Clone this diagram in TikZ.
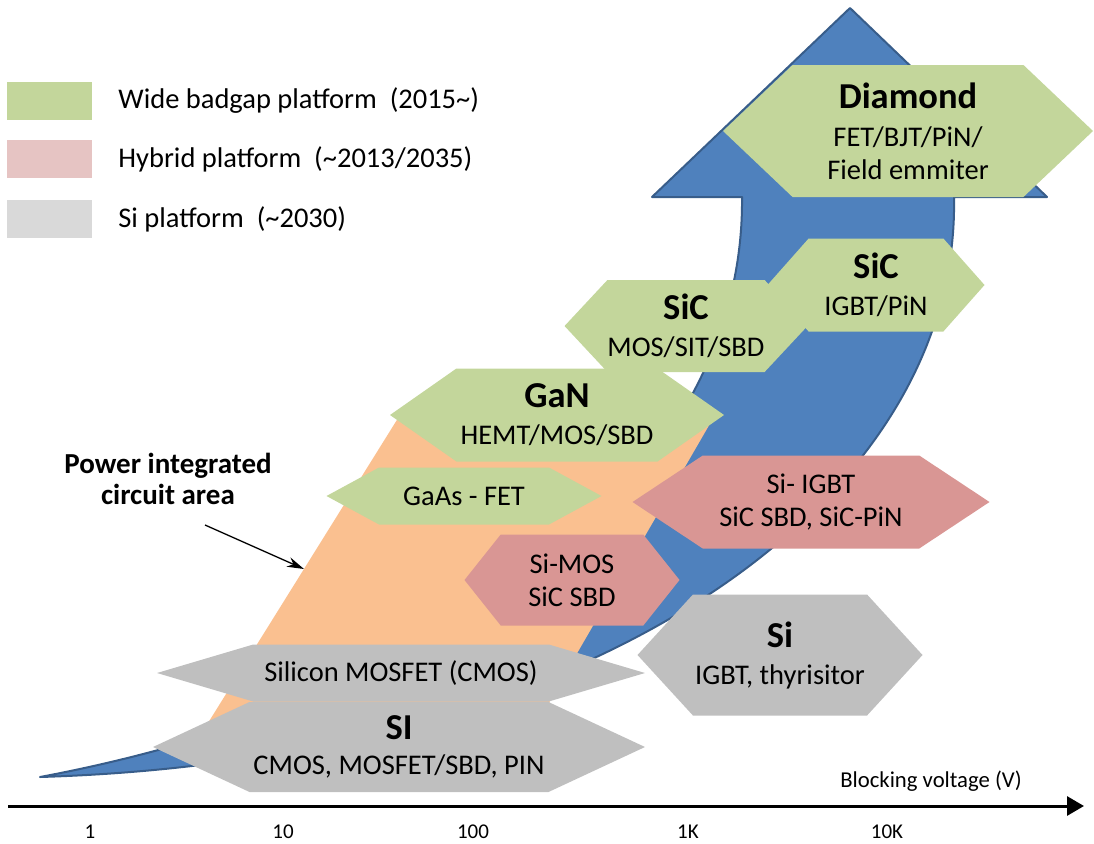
\documentclass[tikz,border=0pt]{standalone}
\usepackage{fontspec}
\setmainfont{Carlito}
\usepackage{tikz}
\usetikzlibrary{arrows.meta,positioning,shapes.symbols}
\definecolor{wbg-green}{HTML}{C3D69B}
\definecolor{hyb-pink}{HTML}{D99694}
\definecolor{hyb-light}{HTML}{E6C4C3}
\definecolor{si-gray}{HTML}{BFBFBF}
\definecolor{si-light}{HTML}{D9D9D9}
\definecolor{pic-orange}{HTML}{FAC090}
\definecolor{arr-blue}{HTML}{4F81BD}
\definecolor{arr-edge}{HTML}{385D8A}
\newcommand{\hxtitle}[1]{{\fontsize{36.5}{40}\selectfont\bfseries #1}}

\begin{document}
\begin{tikzpicture}[x=1pt, y=-1pt,
    hexa/.style={shape=signal, signal to=west and east, inner sep=0pt,
                 align=center, font=\fontsize{28.5}{33}\selectfont},
    legbox/.style={rectangle, minimum width=85pt, minimum height=38pt, inner sep=0pt},
    legtext/.style={inner sep=0pt, font=\fontsize{28.5}{33}\selectfont},
    ticklbl/.style={inner sep=0pt, font=\fontsize{21}{24}\selectfont},
    arrow/.style={-{Stealth[length=17pt,width=10pt]}, line width=1.3pt}
]
  \useasboundingbox (0,0) rectangle (1094,843);

  % Growth arrow
  \filldraw[fill=arr-blue, draw=arr-edge, line width=2pt, line join=round]
    (40,777) .. controls (600,760) and (960,500) .. (954,197)
    -- (1047,197) -- (850,8) -- (652,197) -- (742,197)
    .. controls (745,480) and (450,700) .. (40,777) -- cycle;

  % Power IC area
  \fill[pic-orange] (188,755) -- (400,415) -- (715,415) -- (550,700) -- (540,755) -- cycle;

  % Legend
  \node[legbox, fill=wbg-green] (lgwide) at (49.5,101) {};
  \node[legtext, right=26pt of lgwide] (lgwidet) {Wide\ badgap platform\ \ (2015\textasciitilde)};
  \node[legbox, fill=hyb-light] (lghyb) at (49.5,159) {};
  \node[legtext, right=26pt of lghyb] (lghybt) {Hybrid platform\ \ (\textasciitilde2013/2035)};
  \node[legbox, fill=si-light] (lgsi) at (49.5,219) {};
  \node[legtext, right=26pt of lgsi] (lgsit) {Si platform\ \ (\textasciitilde2030)};

  % Wide bandgap
  \node[hexa, fill=wbg-green, minimum width=370pt, minimum height=132pt, signal pointer angle=87]
    (diamond) at (908,131) {\hxtitle{Diamond}\\[5pt]FET/BJT/PiN/\\Field emmiter};
  \node[hexa, fill=wbg-green, minimum width=217pt, minimum height=93pt, signal pointer angle=97]
    (sichv) at (876,285) {\hxtitle{SiC}\\[4pt]IGBT/PiN};
  \node[hexa, fill=wbg-green, minimum width=218pt, minimum height=92pt, signal pointer angle=94]
    (siclv) at (686,326) {\hxtitle{SiC}\\[4pt]MOS/SIT/SBD};
  \node[hexa, fill=wbg-green, minimum width=334pt, minimum height=93pt, signal pointer angle=70]
    (gan) at (557,415) {\hxtitle{GaN}\\[4pt]HEMT/MOS/SBD};
  \node[hexa, fill=wbg-green, minimum width=275pt, minimum height=57pt, signal pointer angle=57]
    (gaas) at (464,496) {GaAs - FET};

  % Hybrid
  \node[hexa, fill=hyb-pink, minimum width=357pt, minimum height=93pt, signal pointer angle=67]
    (siigbt) at (811,502) {Si- IGBT\\SiC SBD, SiC-PiN};
  \node[hexa, fill=hyb-pink, minimum width=215pt, minimum height=91pt, signal pointer angle=103]
    (simos) at (572,580) {Si-MOS\\SiC SBD};

  % Si
  \node[hexa, fill=si-gray, minimum width=285pt, minimum height=121pt, signal pointer angle=95]
    (sihv) at (780,655) {\hxtitle{Si}\\[4pt]IGBT, thyrisitor};
  \node[hexa, fill=si-gray, minimum width=488pt, minimum height=57pt, signal pointer angle=33]
    (cmos) at (401,673) {Silicon MOSFET (CMOS)};
  \node[hexa, fill=si-gray, minimum width=492pt, minimum height=90pt, signal pointer angle=50]
    (silv) at (399,747) {\hxtitle{SI}\\[2pt]CMOS, MOSFET/SBD, PIN};

  % Annotation
  \node[align=center, inner sep=0pt, font=\fontsize{29}{31}\selectfont\bfseries]
    (picarea) at (168,479) {Power integrated\\circuit area};
  \coordinate (picfrom) at (205,525);
  \coordinate (picto) at (304,569);
  \draw[arrow] (picfrom) -- (picto);

  % Voltage axis
  \coordinate (axfrom) at (8,806);
  \coordinate (axto) at (1084,806);
  \draw[line width=3pt, -{Triangle[length=17pt,width=19pt]}] (axfrom) -- (axto);
  \node[inner sep=0pt, font=\fontsize{22.7}{26}\selectfont] (axtitle) at (931,781) {Blocking voltage (V)};
  \foreach \x/\v in {90/1, 283/10, 473/100, 688/1K, 887/10K}
    \node[ticklbl] (tk\v) at (\x,832) {\v};

\end{tikzpicture}
\end{document}
